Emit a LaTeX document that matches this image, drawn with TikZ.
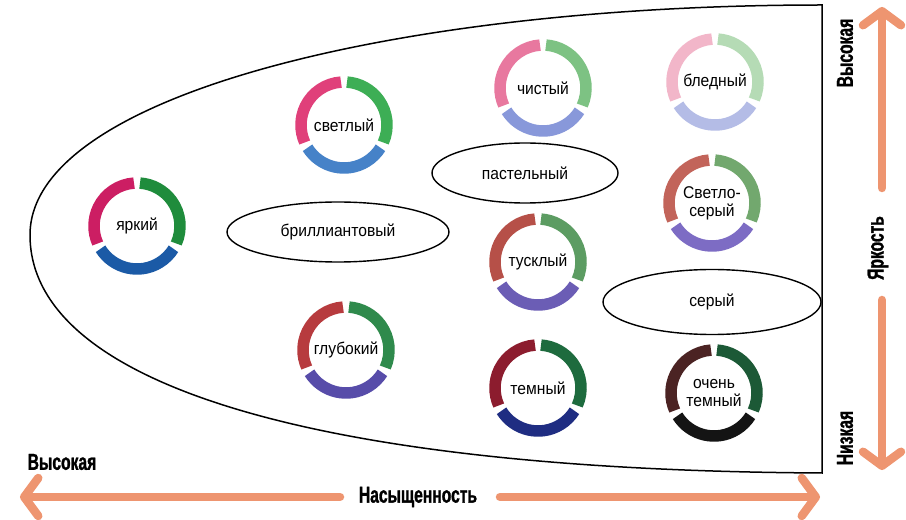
\documentclass[tikz,border=0pt]{standalone}
\usepackage{fontspec}
\setmainfont{Liberation Sans}
\newfontfamily\lblfont[FakeStretch=0.92]{Liberation Sans}
\newfontfamily\axfont[FakeStretch=0.68,FakeBold=1.2]{Liberation Sans}
\usetikzlibrary{arrows.meta,shapes.geometric}
\definecolor{axisc}{HTML}{EE9570}
\definecolor{aL}{HTML}{CC1E63}\definecolor{aR}{HTML}{1F8C3C}\definecolor{aB}{HTML}{1B5AA6}
\definecolor{bL}{HTML}{E0407A}\definecolor{bR}{HTML}{3DAE55}\definecolor{bB}{HTML}{4682C8}
\definecolor{cL}{HTML}{E8789F}\definecolor{cR}{HTML}{7DC283}\definecolor{cB}{HTML}{8898DA}
\definecolor{dL}{HTML}{F2B6C9}\definecolor{dR}{HTML}{B5DBB5}\definecolor{dB}{HTML}{B4BCE6}
\definecolor{eL}{HTML}{C2645A}\definecolor{eR}{HTML}{72A86E}\definecolor{eB}{HTML}{7D6CC4}
\definecolor{fL}{HTML}{B65048}\definecolor{fR}{HTML}{5C9C62}\definecolor{fB}{HTML}{6B5DB5}
\definecolor{gL}{HTML}{B73B3E}\definecolor{gR}{HTML}{2F8A4C}\definecolor{gB}{HTML}{574CA9}
\definecolor{hL}{HTML}{8C1C2E}\definecolor{hR}{HTML}{1E6B3E}\definecolor{hB}{HTML}{1F2D82}
\definecolor{iL}{HTML}{4B2323}\definecolor{iR}{HTML}{1C5936}\definecolor{iB}{HTML}{141414}
\newcommand\colring[2]{%
  \draw[ringseg,draw=#2L] ([shift={(94:43)}]#1.center) arc[start angle=94,end angle=204,radius=43];
  \draw[ringseg,draw=#2B] ([shift={(212:43)}]#1.center) arc[start angle=212,end angle=328,radius=43];
  \draw[ringseg,draw=#2R] ([shift={(-24:43)}]#1.center) arc[start angle=-24,end angle=86,radius=43];}
\begin{document}
\begin{tikzpicture}[x=1pt,y=1pt,
  ringseg/.style={line width=11.5pt},
  lbl/.style={font=\lblfont\fontsize{17}{18}\selectfont,inner sep=1pt,align=center},
  oval/.style={ellipse,draw=black,line width=1.4pt,inner sep=0pt,font=\lblfont\fontsize{17}{18}\selectfont},
  axlbl/.style={font=\axfont\bfseries\fontsize{23}{25}\selectfont,inner sep=0pt},
  axarrow/.style={draw=axisc,line width=8.5pt,line cap=round,-{Straight Barb[round,length=14pt,width=38pt]}},
  outline/.style={draw=black,line width=1.5pt}]
\useasboundingbox (0,0) rectangle (906,520);
\fill[white] (0,0) rectangle (906,520);
% outline
\draw[outline] (822,515) .. controls (400,515) and (30,425) .. (30,285)
  .. controls (30,140) and (300,50) .. (822,47) -- cycle;
% circle labels
\node[lbl] (yarkiy) at (137,294) {яркий};
\node[lbl] (svetly) at (344,395) {светлый};
\node[lbl] (chisty) at (543,432) {чистый};
\node[lbl] (bledny) at (715,438) {бледный};
\node[lbl] (svseryi) at (712,317) {Светло-\\серый};
\node[lbl] (tuskly) at (538,258) {тусклый};
\node[lbl] (gluboky) at (346,170) {глубокий};
\node[lbl] (temny) at (538,132) {темный};
\node[lbl] (ochtemny) at (714,127) {очень\\темный};
% rings
\colring{yarkiy}{a}
\colring{svetly}{b}
\colring{chisty}{c}
\colring{bledny}{d}
\colring{svseryi}{e}
\colring{tuskly}{f}
\colring{gluboky}{g}
\colring{temny}{h}
\colring{ochtemny}{i}
% ovals
\node[oval,minimum width=222pt,minimum height=60pt] (brill) at (338,288) {бриллиантовый};
\node[oval,minimum width=186pt,minimum height=60pt] (pastel) at (525,347) {пастельный};
\node[oval,minimum width=218pt,minimum height=65pt] (sery) at (712,218) {серый};
% horizontal axis
\coordinate (hLe) at (340,23);
\coordinate (hLt) at (20,23);
\coordinate (hRs) at (500,23);
\coordinate (hRt) at (820,23);
\draw[axarrow] (hLe) -- (hLt);
\draw[axarrow] (hRs) -- (hRt);
\node[axlbl] (sat) at (418,23) {Насыщенность};
\node[axlbl] (hi1) at (62,58) {Высокая};
% vertical axis
\coordinate (vTe) at (882,332);
\coordinate (vT) at (882,513);
\coordinate (vBs) at (882,220);
\coordinate (vB) at (882,50);
\draw[axarrow] (vTe) -- (vT);
\draw[axarrow] (vBs) -- (vB);
\node[axlbl,rotate=90] (bright) at (878,272) {Яркость};
\node[axlbl,rotate=90] (hi2) at (845,467) {Высокая};
\node[axlbl,rotate=90] (lo) at (845,82) {Низкая};
\end{tikzpicture}
\end{document}
